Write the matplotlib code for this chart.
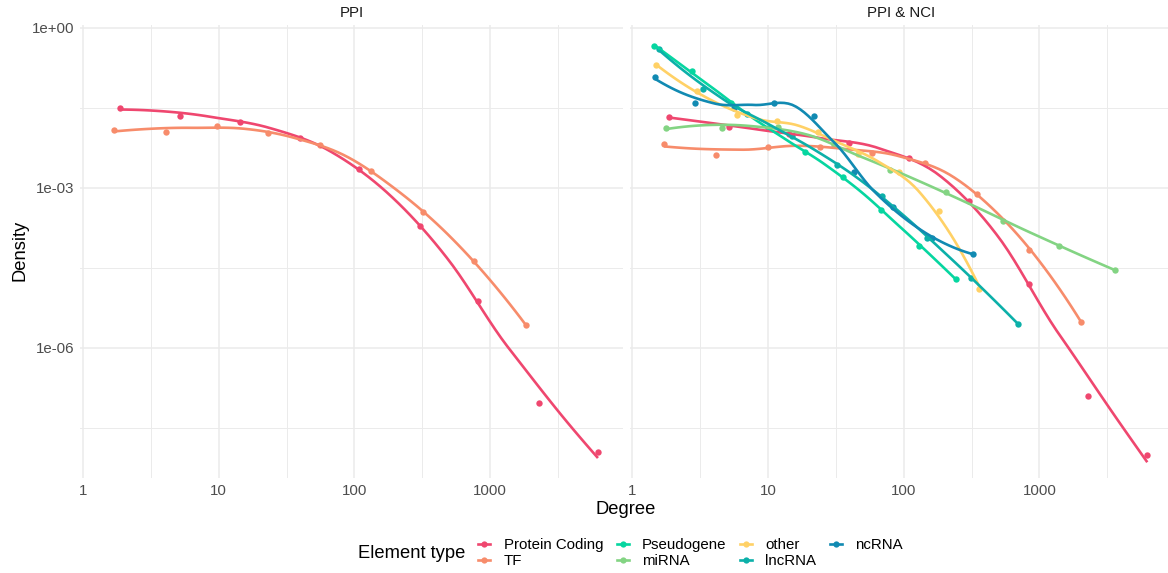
import numpy as np
import matplotlib
matplotlib.use("Agg")
import matplotlib.pyplot as plt
from matplotlib.lines import Line2D

plt.rcParams['font.family'] = ['Liberation Sans', 'DejaVu Sans']

types = ["Protein Coding", "TF", "Pseudogene", "miRNA", "other", "lncRNA", "ncRNA"]
colors = ["#EF476F", "#F78C6B", "#06D6A0", "#83D483", "#FFD166", "#0CB0A9", "#118AB2"]
panels = ["PPI", "PPI & NCI"]

# PPI panel
ppi_pc_deg = [1.88, 5.2, 14.3, 39.7, 108, 302, 820, 2280, 6230]
ppi_pc_dens = [3.1e-2, 2.25e-2, 1.74e-2, 8.8e-3, 2.26e-3, 1.95e-4, 7.6e-6, 9.2e-8, 1.11e-8]
ppi_tf_deg = [1.70, 4.07, 9.7, 23.2, 55.8, 133, 318, 760, 1827]
ppi_tf_dens = [1.21e-2, 1.13e-2, 1.46e-2, 1.05e-2, 6.5e-3, 2.07e-3, 3.53e-4, 4.33e-5, 2.68e-6]

# PPI & NCI panel
nci_pc_deg = [1.87, 5.19, 14.4, 39.7, 110, 304, 843, 2290, 6240]
nci_pc_dens = [2.14e-2, 1.39e-2, 1.03e-2, 6.96e-3, 3.64e-3, 5.68e-4, 1.57e-5, 1.25e-7, 9.7e-9]
nci_tf_deg = [1.72, 4.16, 10.05, 24.3, 58.7, 144, 349, 843, 2037]
nci_tf_dens = [6.58e-3, 4.09e-3, 5.93e-3, 5.93e-3, 4.57e-3, 2.97e-3, 7.59e-4, 6.84e-5, 3.09e-6]
nci_pseudo_deg = [1.45, 2.77, 5.37, 10.05, 18.8, 35.9, 68.4, 130, 244]
nci_pseudo_dens = [0.466, 0.156, 3.92e-2, 1.33e-2, 4.72e-3, 1.60e-3, 3.85e-4, 8.13e-5, 1.95e-5]
nci_mirna_deg = [1.78, 4.61, 11.9, 30.8, 79.7, 206, 542, 1402, 3624]
nci_mirna_dens = [1.33e-2, 1.33e-2, 1.39e-2, 6.38e-3, 2.17e-3, 8.38e-4, 2.39e-4, 8.13e-5, 2.88e-5]
nci_other_deg = [1.50, 3.01, 5.94, 11.7, 23.5, 46.3, 92.8, 183, 361]
nci_other_dens = [0.202, 6.58e-2, 2.33e-2, 1.80e-2, 1.12e-2, 4.33e-3, 1.99e-3, 3.69e-4, 1.27e-5]
nci_lnc_deg = [1.58, 3.34, 7.04, 15.1, 32.4, 69.6, 149, 315, 699]
nci_lnc_dens = [0.404, 7.18e-2, 2.43e-2, 9.41e-3, 2.69e-3, 7.05e-4, 1.15e-4, 2.04e-5, 2.80e-6]
nci_nc_deg = [1.48, 2.91, 5.65, 11.1, 21.9, 43.3, 83.8, 163, 326]
nci_nc_dens = [0.120, 3.92e-2, 3.16e-2, 3.92e-2, 2.23e-2, 1.99e-3, 4.38e-4, 1.15e-4, 5.75e-5]

ppi_series = [(ppi_pc_deg, ppi_pc_dens, 0), (ppi_tf_deg, ppi_tf_dens, 1)]
nci_series = [(nci_pc_deg, nci_pc_dens, 0), (nci_tf_deg, nci_tf_dens, 1),
              (nci_pseudo_deg, nci_pseudo_dens, 2), (nci_mirna_deg, nci_mirna_dens, 3),
              (nci_other_deg, nci_other_dens, 4), (nci_lnc_deg, nci_lnc_dens, 5),
              (nci_nc_deg, nci_nc_dens, 6)]


def local_fit(x, y, x0, span=0.75):
    # local quadratic fit with tricube weights, returns value and slope
    n = len(x)
    q = int(np.floor(n * span))
    d = np.abs(x - x0)
    dq = np.sort(d)[q - 1]
    w = np.clip(1 - (d / dq) ** 3, 0, None) ** 3
    X = np.vstack([np.ones(n), x - x0, (x - x0) ** 2]).T
    sw = np.sqrt(w)
    beta = np.linalg.lstsq(X * sw[:, None], y * sw, rcond=None)[0]
    return beta[0], beta[1]


def loess(x, y, xs):
    # fit at vertices, cubic hermite in between (like R's interpolate surface)
    xsort = np.sort(x)
    verts = np.concatenate([[xsort[0]], (xsort[:-1] + xsort[1:]) / 2, [xsort[-1]]])
    vals = [local_fit(x, y, v) for v in verts]
    f = np.array([a for a, b in vals])
    s = np.array([b for a, b in vals])
    out = []
    for t in xs:
        i = np.searchsorted(verts, t) - 1
        i = min(max(i, 0), len(verts) - 2)
        h = verts[i + 1] - verts[i]
        u = (t - verts[i]) / h
        h00 = 2 * u ** 3 - 3 * u ** 2 + 1
        h10 = u ** 3 - 2 * u ** 2 + u
        h01 = -2 * u ** 3 + 3 * u ** 2
        h11 = u ** 3 - u ** 2
        out.append(h00 * f[i] + h10 * h * s[i] + h01 * f[i + 1] + h11 * h * s[i + 1])
    return np.array(out)


fig = plt.figure(figsize=(11.68, 5.73), dpi=100)
ax1 = fig.add_axes([0.06875, 0.1658, 0.4644, 0.7906])
ax2 = fig.add_axes([0.5390, 0.1658, 0.4644, 0.7906])

for ax, series, title in [(ax1, ppi_series, panels[0]), (ax2, nci_series, panels[1])]:
    ax.set_xscale('log')
    ax.set_yscale('log')
    for deg, dens, k in series:
        ax.scatter(deg, dens, s=21, color=colors[k], zorder=3, linewidths=0)
    for deg, dens, k in series:
        lx = np.log10(deg)
        ly = np.log10(dens)
        xs = np.linspace(lx.min(), lx.max(), 80)
        ys = loess(lx, ly, xs)
        ax.plot(10 ** xs, 10 ** ys, color=colors[k], lw=1.9, zorder=4, solid_capstyle='butt')
    ax.set_xlim(10 ** -0.02, 10 ** 3.977)
    ax.set_ylim(10 ** -8.44, 10 ** 0.056)
    ax.set_xticks([1, 10, 100, 1000])
    ax.set_xticklabels(["1", "10", "100", "1000"])
    ax.set_xticks([10 ** 0.5, 10 ** 1.5, 10 ** 2.5, 10 ** 3.5], minor=True)
    ax.set_yticks([1, 1e-3, 1e-6])
    ax.set_yticklabels(["1e+00", "1e-03", "1e-06"])
    ax.set_yticks([10 ** -1.5, 10 ** -4.5, 10 ** -7.5], minor=True)
    ax.yaxis.set_minor_formatter(plt.NullFormatter())
    ax.xaxis.set_minor_formatter(plt.NullFormatter())
    ax.grid(which='major', color='#EBEBEB', lw=1.1)
    ax.grid(which='minor', color='#EBEBEB', lw=0.7)
    ax.set_axisbelow(True)
    for s in ax.spines.values():
        s.set_visible(False)
    ax.tick_params(which='both', length=0, pad=4, labelsize=10.8, labelcolor='#4D4D4D')
    ax.text(0.5, 1 + 12 / 453, title, transform=ax.transAxes, ha='center', va='center',
            fontsize=10.8, color='#1A1A1A')

ax2.tick_params(labelleft=False)

fig.text(626 / 1168, 1 - 509 / 573, "Degree", ha='center', va='center', fontsize=13.2)
fig.text(20 / 1168, 1 - 250 / 573, "Density", ha='center', va='center', fontsize=13.2, rotation=90)

handles = [Line2D([0], [0], color=c, lw=1.9, marker='o', ms=4.5, markeredgewidth=0) for c in colors]
fig.text(358 / 1168, 1 - 553 / 573, "Element type", ha='left', va='center', fontsize=13.2)
fig.legend(handles, types, loc='center left', bbox_to_anchor=(478 / 1168, 1 - 553 / 573),
           ncol=4, frameon=False, fontsize=10.8, handlelength=0.8, handletextpad=0.9,
           columnspacing=0.9, labelspacing=0.1, borderpad=0, borderaxespad=0)

plt.savefig("out.png", dpi=100)
